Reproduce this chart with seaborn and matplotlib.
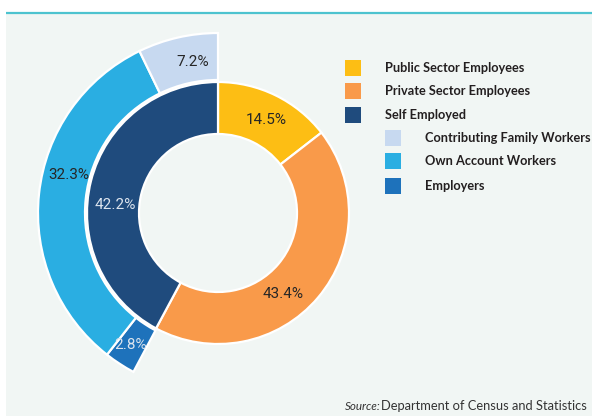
import numpy as np
import matplotlib
matplotlib.use("Agg")
import matplotlib.pyplot as plt
from matplotlib.patches import Rectangle
import seaborn as sns

# Employment status shares (%)
main_labels = ["Public Sector Employees", "Private Sector Employees", "Self Employed"]
main_values = [14.5, 43.4, 42.2]

self_labels = ["Contributing Family Workers", "Own Account Workers", "Employers"]
self_values = [7.2, 32.3, 2.8]

source_prefix = "Source:"
source_text = "Department of Census and Statistics"

sns.set_theme(style="white")
plt.rcParams["font.family"] = ["Roboto", "DejaVu Sans"]

main_colors = sns.color_palette(["#FDBE14", "#F99A4A", "#1F4B7D"])
self_colors = sns.color_palette(["#C7D9F0", "#2AAEE2", "#1E72BB"])

W, H = 592, 416
fig = plt.figure(figsize=(W / 100, H / 100), dpi=100, facecolor="white")
ax = fig.add_axes([0, 0, 1, 1])
ax.set_xlim(0, W)
ax.set_ylim(0, H)
ax.set_aspect("equal")
ax.axis("off")

# panel background and top rule
ax.add_patch(Rectangle((6, 0), W - 6, H - 13, facecolor="#F1F6F4", edgecolor="none", zorder=0))
ax.plot([6, W], [H - 13, H - 13], color="#4DC3CF", lw=1.6, zorder=1, solid_capstyle="butt")

cx, cy = 218, H - 213
edge = dict(edgecolor="white", linewidth=1.6)

# inner ring: main categories
ax.pie(main_values, colors=main_colors, startangle=90, counterclock=False,
       radius=131, center=(cx, cy), frame=True,
       wedgeprops=dict(width=52, **edge))

# outer ring: breakdown of the self-employed, placed on the self-employed arc
outer_vals = [main_values[0] + main_values[1]] + self_values[::-1]
outer_cols = ["none"] + list(self_colors[::-1])
wedges, _ = ax.pie(outer_vals, colors=outer_cols, startangle=90, counterclock=False,
                   radius=180, center=(cx, cy), frame=True,
                   wedgeprops=dict(width=47, **edge))
wedges[0].set_visible(False)
ax.set_xlim(0, W)
ax.set_ylim(0, H)
ax.axis("off")

# percentage labels: (angle clockwise from top, distance from centre)
def polar(angle, r):
    t = np.deg2rad(angle)
    return cx + r * np.sin(t), cy + r * np.cos(t)

dark, light = "#262626", "#DCE4EE"
main_label_pos = [(27.5, 105), (141.3, 104), (274.4, 103)]
main_label_col = [dark, dark, light]
for v, (a, r), c in zip(main_values, main_label_pos, main_label_col):
    x, y = polar(a, r)
    ax.text(x, y, f"{v:.1f}%", ha="center", va="center", fontsize=11,
            color=c, fontweight="normal")

self_label_pos = [(350.4, 153), (284.3, 154), (213.4, 158)]
self_label_col = [dark, dark, light]
for v, (a, r), c in zip(self_values, self_label_pos, self_label_col):
    x, y = polar(a, r)
    ax.text(x, y, f"{v:.1f}%", ha="center", va="center", fontsize=11,
            color=c, fontweight="normal")

# legend
leg_font = dict(family=["Lato", "DejaVu Sans"], fontsize=9.2, fontweight="bold", color="#231F20")
rows_main = [68, 91, 115]
rows_self = [138, 161, 186]
for lab, col, yy in zip(main_labels, main_colors, rows_main):
    ax.add_patch(Rectangle((345, H - yy - 8), 16, 16, facecolor=col, edgecolor="none"))
    ax.text(385, H - yy, lab, ha="left", va="center", **leg_font)
for lab, col, yy in zip(self_labels, self_colors, rows_self):
    ax.add_patch(Rectangle((385, H - yy - 8), 16, 16, facecolor=col, edgecolor="none"))
    ax.text(425, H - yy, lab, ha="left", va="center", **leg_font)

# source note
src_font = dict(family=["Lato", "DejaVu Sans"], color="#333333")
ax.text(345, H - 406, source_prefix, ha="left", va="center", fontstyle="italic",
        fontsize=8.4, **src_font)
ax.text(381, H - 406, source_text, ha="left", va="center", fontsize=9.3, **src_font)

fig.savefig("out.png", dpi=100, facecolor="white")
